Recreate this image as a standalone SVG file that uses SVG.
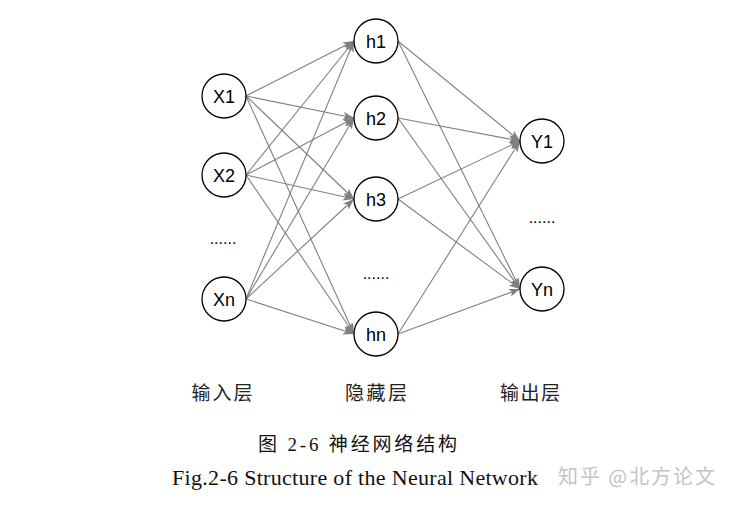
<svg xmlns="http://www.w3.org/2000/svg" width="733" height="507" viewBox="0 0 733 507">
<style>
.n circle{fill:#fff;stroke:#000;stroke-width:1.3}
.n text{font-family:"Liberation Sans",Arial,sans-serif;font-size:18px;text-anchor:middle;fill:#000}
.e line{stroke:#808080;stroke-width:1.1;marker-end:url(#ah)}
.dots{font-family:"Liberation Sans",Arial,sans-serif;font-size:16px;text-anchor:middle;fill:#000}
.lab{font-family:"Noto Sans CJK SC",sans-serif;font-size:19px;fill:#222;text-anchor:middle}
</style>
<defs>
<marker id="ah" markerUnits="userSpaceOnUse" markerWidth="12" markerHeight="10" refX="11" refY="4" orient="auto">
<path d="M0,0 L11,4 L0,8 L2.5,4 Z" fill="#808080"/>
</marker>
</defs>
<rect width="733" height="507" fill="#fff"/>
<g id="connectors" class="e">
<line x1="246" y1="96" x2="354" y2="41"/>
<line x1="246" y1="96" x2="354" y2="118"/>
<line x1="246" y1="96" x2="354" y2="199"/>
<line x1="246" y1="96" x2="354" y2="334"/>
<line x1="246" y1="175" x2="354" y2="41"/>
<line x1="246" y1="175" x2="354" y2="118"/>
<line x1="246" y1="175" x2="354" y2="199"/>
<line x1="246" y1="175" x2="354" y2="334"/>
<line x1="246" y1="299" x2="354" y2="41"/>
<line x1="246" y1="299" x2="354" y2="118"/>
<line x1="246" y1="299" x2="354" y2="199"/>
<line x1="246" y1="299" x2="354" y2="334"/>
<line x1="398" y1="41" x2="520" y2="141"/>
<line x1="398" y1="41" x2="520" y2="289"/>
<line x1="398" y1="118" x2="520" y2="141"/>
<line x1="398" y1="118" x2="520" y2="289"/>
<line x1="398" y1="199" x2="520" y2="141"/>
<line x1="398" y1="199" x2="520" y2="289"/>
<line x1="398" y1="334" x2="520" y2="141"/>
<line x1="398" y1="334" x2="520" y2="289"/>
</g>
<g id="X1" class="n"><circle cx="224" cy="96" r="22"/><text x="224" y="102.5">X1</text></g>
<g id="X2" class="n"><circle cx="224" cy="175" r="22"/><text x="224" y="181.5">X2</text></g>
<g id="Xn" class="n"><circle cx="224" cy="299" r="22"/><text x="224" y="305.5">Xn</text></g>
<g id="h1" class="n"><circle cx="376" cy="41" r="22"/><text x="376" y="47.5">h1</text></g>
<g id="h2" class="n"><circle cx="376" cy="118" r="22"/><text x="376" y="124.5">h2</text></g>
<g id="h3" class="n"><circle cx="376" cy="199" r="22"/><text x="376" y="205.5">h3</text></g>
<g id="hn" class="n"><circle cx="376" cy="334" r="22"/><text x="376" y="340.5">hn</text></g>
<g id="Y1" class="n"><circle cx="542" cy="141" r="22"/><text x="542" y="147.5">Y1</text></g>
<g id="Yn" class="n"><circle cx="542" cy="289" r="22"/><text x="542" y="295.5">Yn</text></g>
<text class="dots" x="223" y="244">......</text>
<text class="dots" x="376" y="279">......</text>
<text class="dots" x="542" y="223">......</text>
<text class="lab" x="222" y="400" textLength="61">输入层</text>
<text class="lab" x="376" y="400" textLength="62">隐藏层</text>
<text class="lab" x="530" y="400" textLength="60">输出层</text>
<text x="258" y="451" font-family="'Liberation Serif','Noto Sans CJK SC',serif" font-size="19" fill="#111" textLength="199">图 2-6 神经网络结构</text>
<text x="172" y="485" font-family="'Liberation Serif','Times New Roman',serif" font-size="22" fill="#111" textLength="366">Fig.2-6 Structure of the Neural Network</text>
<text x="558" y="484" font-family="'Noto Sans CJK SC',sans-serif" font-size="20" fill="#c4c4c4" textLength="157">知乎 @北方论文</text>
</svg>
